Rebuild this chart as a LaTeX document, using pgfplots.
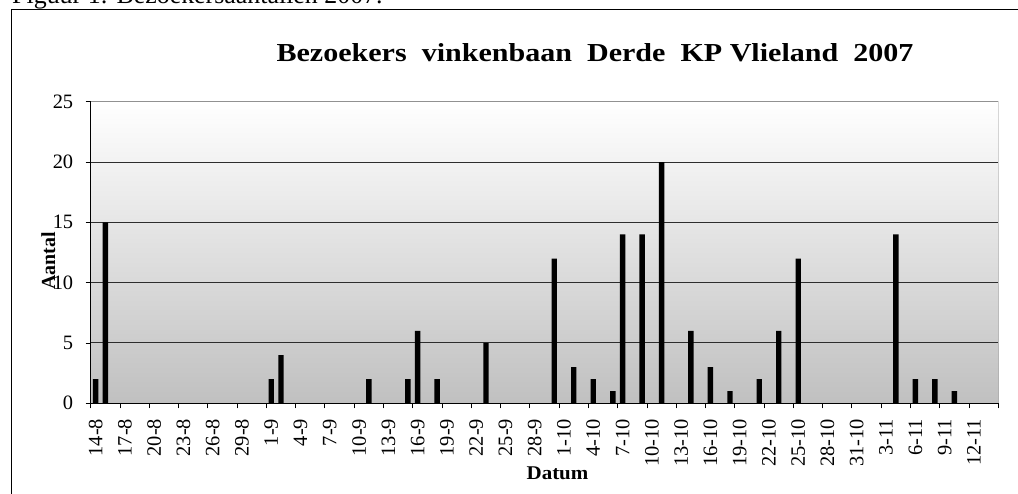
\documentclass[border=0pt]{standalone}
\usepackage{fontspec}
\setmainfont{Liberation Serif}
\usepackage{graphicx}
\usepackage{pgfplots}
\pgfplotsset{compat=1.18}
\definecolor{bgbot}{RGB}{192,192,192}
\definecolor{gridc}{RGB}{45,45,45}
\definecolor{boxc}{RGB}{145,145,145}
\begin{document}
\begin{tikzpicture}[x=1bp,y=1bp]
\useasboundingbox (0,0) rectangle (1018,494);
\clip (0,0) rectangle (1018,494);
\fill[white] (0,0) rectangle (1018,494);
\draw[line width=1.2bp] (11.7,-5) -- (11.7,484.7) -- (1030,484.7);
\node[anchor=base west, inner sep=0, font=\fontsize{26}{26}\selectfont] at (12,490) {Figuur 1: Bezoekersaantallen 2007.};
\begin{axis}[
  scale only axis, width=907.6bp, height=301.6bp,
  at={(90.7bp,90.7bp)}, anchor=south west,
  xmin=-0.5, xmax=92.5, ymin=0, ymax=25,
  ybar, bar width=0.55,
  axis x line*=bottom, axis y line*=left,
  axis line style={black, line width=1.1bp},
  ytick={0,5,...,25},
  ymajorgrids, major grid style={gridc, line width=1bp},
  tick align=outside, major tick length=5bp,
  tick style={black, line width=0.9bp},
  xtick={0,3,...,90},
  xticklabels={14-8,17-8,20-8,23-8,26-8,29-8,1-9,4-9,7-9,10-9,13-9,16-9,19-9,22-9,25-9,28-9,1-10,4-10,7-10,10-10,13-10,16-10,19-10,22-10,25-10,28-10,31-10,3-11,6-11,9-11,12-11},
  xtick style={draw=none},
  xticklabel style={rotate=90, anchor=east, font=\fontsize{20.5}{20.5}\selectfont},
  xticklabel shift=7bp,
  extra x ticks={-0.5,2.5,...,92.5},
  extra x tick labels={},
  extra x tick style={xtick style={draw=black}},
  yticklabel style={xshift=-9bp, font=\fontsize{20.5}{20.5}\selectfont},
  axis background/.style={top color=white, bottom color=bgbot},
  /pgf/number format/assume math mode=true,
]
\addplot[fill=black, draw=none] coordinates {
(0,2) (1,15) (18,2) (19,4) (28,2) (32,2) (33,6) (35,2) (40,5) (47,12)
(49,3) (51,2) (53,1) (54,14) (56,14) (58,20) (61,6) (63,3) (65,1) (68,2)
(70,6) (72,12) (82,14) (84,2) (86,2) (88,1)};
\draw[boxc, line width=1.2bp] (rel axis cs:0,1) -- (rel axis cs:1,1) -- (rel axis cs:1,0);
\end{axis}
\node[anchor=base, inner sep=0, font=\bfseries\fontsize{26}{26}\selectfont] at (595,432.3) {\scalebox{1.16}[1]{Bezoekers\ \ vinkenbaan\ \ Derde\ \ KP Vlieland\ \ 2007}};
\node[anchor=base, inner sep=0, font=\bfseries\fontsize{19.5}{19.5}\selectfont] at (557.5,14.7) {\scalebox{1.08}[1]{Datum}};
\node[rotate=90, anchor=base, inner sep=0, font=\bfseries\fontsize{20}{20}\selectfont] at (55,233) {Aantal};
\end{tikzpicture}
\end{document}
